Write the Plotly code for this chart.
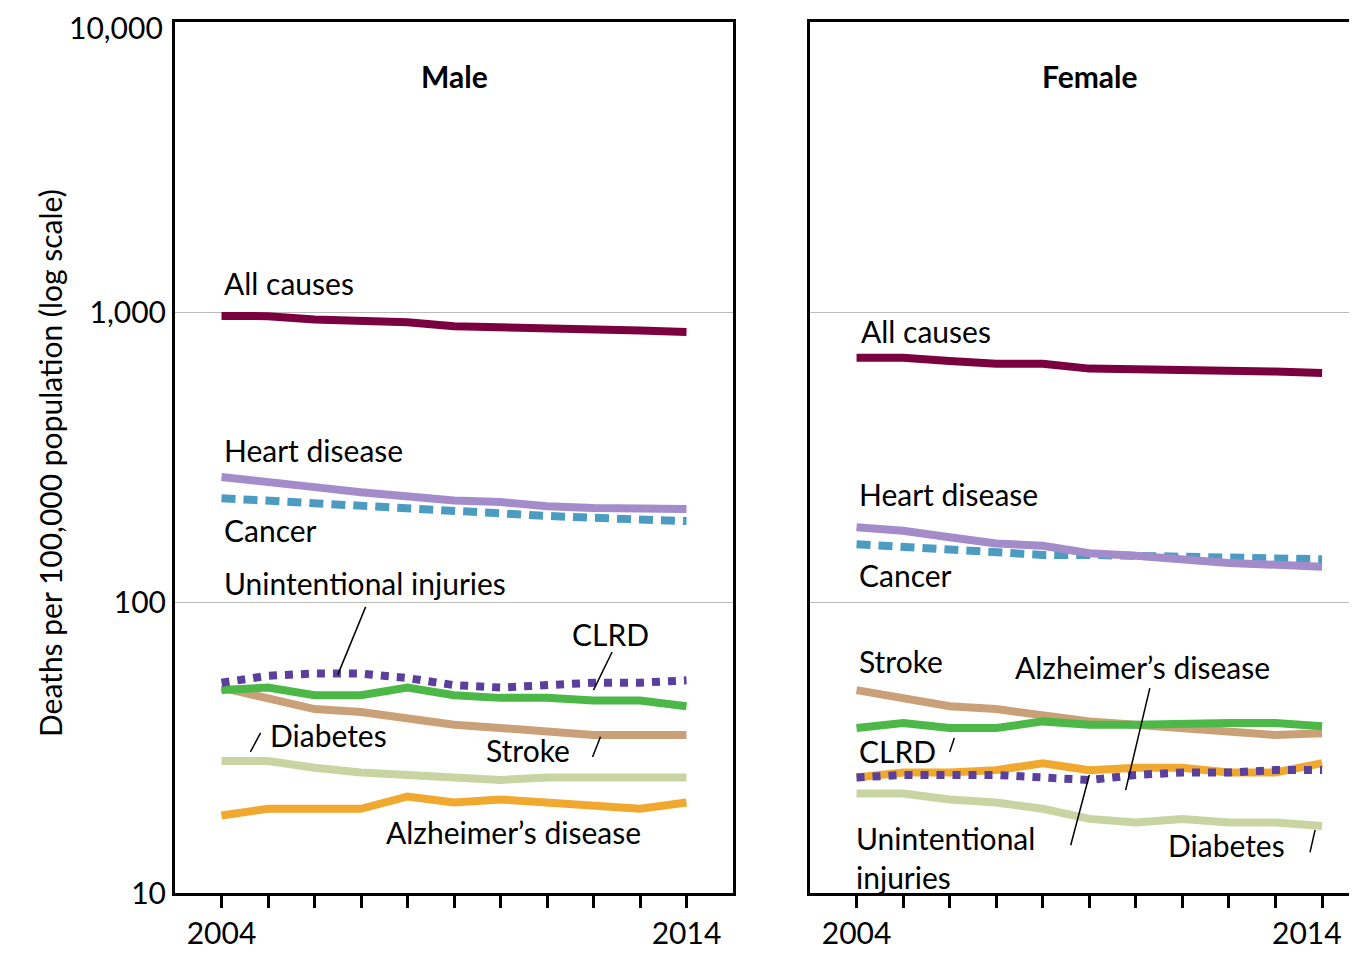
import math
import plotly.graph_objects as go

years = list(range(2004, 2015))

male = {
    "All causes": [972, 970, 945, 930, 925, 895, 890, 880, 870, 865, 856],
    "Heart disease": [271, 262, 250, 240, 233, 225, 222, 215, 212, 210, 210],
    "Cancer": [229, 224, 219, 214, 210, 206, 202, 199, 196, 193, 191],
    "Unintentional injuries": [53, 56, 57, 57, 55, 52, 51, 52, 53, 53, 54],
    "CLRD": [50, 51, 48, 48, 51, 48, 47, 47, 46, 46, 44],
    "Stroke": [51, 47, 43, 42, 40, 38, 37, 36, 35, 35, 35],
    "Diabetes": [28.5, 28.5, 27, 26, 25.5, 25, 24.5, 25, 25, 25, 25],
    "Alzheimer's disease": [18.5, 19.5, 19.5, 19.5, 21.5, 20.5, 21, 20.5, 20, 19.5, 20.5],
}
female = {
    "All causes": [697, 697, 680, 665, 665, 640, 637, 635, 630, 625, 618],
    "Heart disease": [182, 177, 168, 160, 157, 148, 145, 140, 137, 135, 133],
    "Cancer": [159, 156, 152, 149, 146, 146, 145, 144, 143, 142, 141],
    "Unintentional injuries": [25, 25.5, 25.5, 25.5, 25, 24.5, 25.5, 26, 26, 26.5, 26.5],
    "CLRD": [37, 38.5, 37, 37, 39, 38, 38, 38.5, 38.5, 38.5, 37.5],
    "Stroke": [50, 47, 44, 43, 41, 39, 38, 37, 36, 35, 35.5],
    "Diabetes": [22, 22, 21, 20.5, 19.5, 18, 17.5, 18, 17.5, 17.5, 17],
    "Alzheimer's disease": [25, 26, 26, 26.5, 28, 26.5, 27, 27, 26, 26, 28],
}

styles = {
    "All causes": ("#7a0040", "solid"),
    "Heart disease": ("#a48ccb", "solid"),
    "Cancer": ("#4c9cc2", "14px,8px"),
    "Unintentional injuries": ("#5a3f9c", "dot"),
    "CLRD": ("#4cb848", "solid"),
    "Stroke": ("#caa079", "solid"),
    "Diabetes": ("#c9d4a2", "solid"),
    "Alzheimer's disease": ("#f0a92e", "solid"),
}
order = ["Diabetes", "Alzheimer's disease", "Stroke", "CLRD", "Unintentional injuries",
         "Cancer", "Heart disease", "All causes"]

# label text, x, y  (left-anchored)
male_labels = [
    ("All causes", 2004, 1262), ("Heart disease", 2004, 336), ("Cancer", 2004, 178),
    ("Unintentional injuries", 2004, 117), ("CLRD", 2011.5, 78), ("Diabetes", 2005.0, 35),
    ("Stroke", 2009.65, 31.1), ("Alzheimer’s disease", 2007.5, 16.2),
]
female_labels = [
    ("All causes", 2004.05, 863), ("Heart disease", 2004, 237), ("Cancer", 2004, 124.6),
    ("Stroke", 2004, 63), ("Alzheimer’s disease", 2007.35, 60), ("CLRD", 2004, 30.8),
    ("Unintentional<br>injuries", 2003.95, 13.3), ("Diabetes", 2010.65, 14.6),
]
# leader lines: (x0, y0, x1, y1)
male_leaders = [(2007.1, 96.7, 2006.5, 56.4), (2012.4, 67.6, 2012.0, 50),
                (2004.84, 35.6, 2004.62, 30.6), (2012.15, 34.5, 2011.98, 29.4)]
female_leaders = [(2006.1, 34.2, 2006.0, 30.6), (2010.3, 50.8, 2009.78, 22.6),
                  (2009.0, 25.5, 2008.6, 14.6), (2013.85, 16.5, 2013.74, 13.8)]

FONT = "Lato"
SIZE = 30
W, H = 1349, 948
tfont = dict(family=FONT, size=SIZE, color="black")
fig = go.Figure()
panels = [(male, male_labels, male_leaders, "x", "y", "Male"),
          (female, female_labels, female_leaders, "x2", "y2", "Female")]
for data, labels, leaders, xa, ya, title in panels:
    for name in order:
        color, dash = styles[name]
        fig.add_trace(go.Scatter(x=years, y=data[name], mode="lines", xaxis=xa, yaxis=ya,
                                 line=dict(color=color, width=8, dash=dash), showlegend=False))
    for x0, y0, x1, y1 in leaders:
        fig.add_trace(go.Scatter(x=[x0, x1], y=[y0, y1], mode="lines", xaxis=xa, yaxis=ya,
                                 line=dict(color="black", width=1.5), showlegend=False))
    for text, x, y in labels:
        fig.add_annotation(text=text, x=x, y=math.log10(y),
                           xref=xa, yref=ya, xanchor="left", yanchor="middle",
                           showarrow=False, align="left", font=tfont)
    fig.add_annotation(text="<b>" + title + "</b>", x=2009, y=3.814, xref=xa, yref=ya,
                       showarrow=False, font=tfont)

fig.add_annotation(text="Deaths per 100,000 population (log scale)", x=22 / W, y=0.52,
                   xref="paper", yref="paper", textangle=-90, showarrow=False, font=tfont)
# top tick label and right-panel end year, placed so they are not clipped
fig.add_annotation(text="10,000", x=167 / W, xshift=-10, xanchor="right", xref="paper",
                   y=4, yref="y", yanchor="top", yshift=15, showarrow=False, font=tfont)
fig.add_annotation(text="2014", x=2014, xref="x2", xanchor="right", xshift=22,
                   y=1, yref="y2", yanchor="top", yshift=-19, showarrow=False, font=tfont)

xt = dict(range=[2003, 2015], tickvals=years, automargin=False,
          ticktext=["2004"] + [""] * 9 + ["2014"], ticks="outside", ticklen=12,
          tickwidth=3, tickcolor="black", showgrid=False, zeroline=False,
          showline=True, linecolor="black", linewidth=3, mirror=True, tickfont=tfont)
yt = dict(type="log", range=[1, 4], tickvals=[10, 100, 1000, 10000], automargin=False,
          ticktext=["10", "100", "1,000", ""], showgrid=True, gridcolor="#bbbbbb",
          gridwidth=1, showline=True, linecolor="black", linewidth=3, mirror=True,
          ticks="", tickfont=tfont, domain=[1 - 885 / H, 1 - 14 / H])

fig.update_layout(
    width=W, height=H, margin=dict(l=0, r=0, t=0, b=0),
    plot_bgcolor="white", paper_bgcolor="white",
    xaxis=dict(xt, domain=[167 / W, 725 / W]),
    xaxis2=dict(xt, domain=[802 / W, 1.0], range=[2003, 2014.75], anchor="y2",
                ticktext=["2004"] + [""] * 10),
    yaxis=dict(yt, anchor="x"),
    yaxis2=dict(yt, anchor="x2", showticklabels=False),
)
fig.write_html("out.html")
